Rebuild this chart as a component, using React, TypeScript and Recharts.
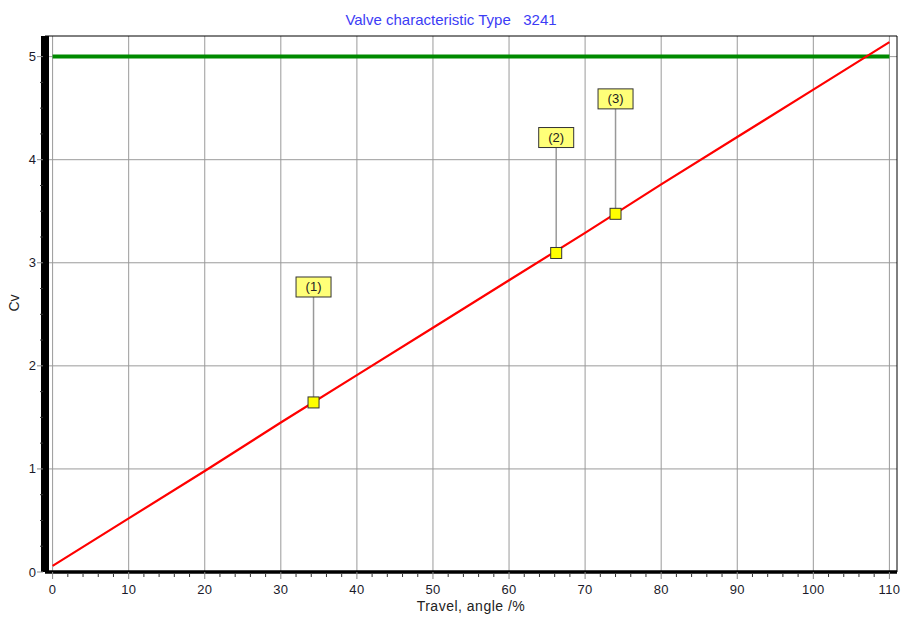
import React from 'react';
import { ComposedChart, Line, XAxis, YAxis, Scatter, CartesianGrid, ReferenceLine } from 'recharts';

// Travel (%) and Cv of the valve characteristic curve
const travel = [0, 10, 20, 30, 40, 50, 60, 70, 80, 90, 100, 110];
const cv = [0.06, 0.52, 0.98, 1.45, 1.91, 2.37, 2.83, 3.29, 3.76, 4.22, 4.68, 5.14];

// Limit line (Cvs)
const limitTravel = [0, 110];
const limitCv = [5, 5];

// Operating points
const pointLabels = ['(1)', '(2)', '(3)'];
const pointTravel = [34.3, 66.2, 74.0];
const pointCv = [1.645, 3.095, 3.475];
const labelCv = [2.765, 4.215, 4.59];

// Axes
const xMajorTicks = [0, 10, 20, 30, 40, 50, 60, 70, 80, 90, 100, 110];
const yMajorTicks = [0, 1, 2, 3, 4, 5];
const xTicks = Array.from({ length: 56 }, (_, i) => i * 2);
const yTicks = Array.from({ length: 21 }, (_, i) => i * 0.25);
const xDomain = [-1, 111];
const yDomain = [0, 5.2];

const title = 'Valve characteristic Type   3241';
const xTitle = 'Travel, angle /%';
const yTitle = 'Cv';

const FONT = '"Liberation Sans", Arial, sans-serif';

const lineData = travel.map((t, i) => ({ t, cv: cv[i] }));
const limitData = limitTravel.map((t, i) => ({ t, cv: limitCv[i] }));
const markerData = pointTravel.map((t, i) => ({ t, cv: pointCv[i] }));
const labelData = pointTravel.map((t, i) => ({ t, cv: labelCv[i], text: pointLabels[i] }));

const XTick = (props: any) => {
  const { x, y, payload } = props;
  const v = payload.value;
  if (v % 10 === 0) {
    return (
      <g>
        <line x1={x} y1={y} x2={x} y2={y + 7} stroke="#888" strokeWidth={1} />
        <text x={x} y={y + 22} textAnchor="middle" fontFamily={FONT} fontSize={13} fill="#1a1a2a" letterSpacing={0.3}>
          {v}
        </text>
      </g>
    );
  }
  return <line x1={x} y1={y + 2} x2={x} y2={y + 5} stroke="#333" strokeWidth={1} />;
};

const YTick = (props: any) => {
  const { x, y, payload } = props;
  const v = payload.value;
  if (Number.isInteger(v)) {
    return (
      <g>
        <line x1={x - 8} y1={y} x2={x - 2} y2={y} stroke="#888" strokeWidth={1} />
        <text x={x - 9} y={y + 4.5} textAnchor="end" fontFamily={FONT} fontSize={13} fill="#1a1a2a">
          {v}
        </text>
      </g>
    );
  }
  return <line x1={x - 5} y1={y} x2={x - 2} y2={y} stroke="#333" strokeWidth={1} />;
};

const MarkerShape = (props: any) => {
  const { cx, cy } = props;
  return <rect x={cx - 5.5} y={cy - 5.5} width={11} height={11} fill="#ffff00" stroke="#333" strokeWidth={1} />;
};

const LabelShape = (props: any) => {
  const { cx, cy, payload } = props;
  const w = 35;
  const h = 20;
  return (
    <g>
      <rect x={cx - w / 2} y={cy - h / 2} width={w} height={h} fill="#ffff78" stroke="#333" strokeWidth={1} />
      <text x={cx} y={cy + 4.5} textAnchor="middle" fontFamily={FONT} fontSize={13} fill="#222">
        {payload.text}
      </text>
    </g>
  );
};

export default function App() {
  return (
    <div style={{ position: 'absolute', left: 0, top: 0, width: 907, height: 623, background: '#fff' }}>
      <ComposedChart
        width={907}
        height={623}
        data={lineData}
        margin={{ top: 36, right: 10, bottom: 0, left: 0 }}
      >
        <CartesianGrid
          stroke="#9a9a9a"
          strokeWidth={1}
          verticalValues={xMajorTicks}
          horizontalValues={yMajorTicks}
        />
        <XAxis
          dataKey="t"
          type="number"
          domain={xDomain}
          ticks={xTicks}
          interval={0}
          height={51}
          tickSize={0}
          tickMargin={0}
          tickLine={false}
          axisLine={{ stroke: '#000', strokeWidth: 3.5 }}
          tick={XTick}
        />
        <YAxis
          type="number"
          domain={yDomain}
          ticks={yTicks}
          interval={0}
          width={45}
          tickSize={0}
          tickMargin={0}
          tickLine={false}
          axisLine={{ stroke: '#000', strokeWidth: 4 }}
          tick={YTick}
        />
        <ReferenceLine y={yDomain[1]} stroke="#000" strokeWidth={1} ifOverflow="visible" />
        <ReferenceLine x={xDomain[1]} stroke="#000" strokeWidth={1} ifOverflow="visible" />
        <ReferenceLine x={xDomain[0]} stroke="#000" strokeWidth={8} ifOverflow="visible" />
        <Line data={limitData} dataKey="cv" stroke="#008a00" strokeWidth={4} dot={false} isAnimationActive={false} />
        <Line dataKey="cv" stroke="#ff0000" strokeWidth={2.2} dot={false} isAnimationActive={false} />
        {pointTravel.map((t, i) => (
          <Line
            key={'lead' + i}
            data={[{ t, cv: pointCv[i] }, { t, cv: labelCv[i] }]}
            dataKey="cv"
            stroke="#999"
            strokeWidth={1.5}
            dot={false}
            isAnimationActive={false}
          />
        ))}
        <Scatter data={labelData} dataKey="cv" shape={LabelShape} isAnimationActive={false} />
        <Scatter data={markerData} dataKey="cv" shape={MarkerShape} isAnimationActive={false} />
      </ComposedChart>
      <svg width={907} height={623} style={{ position: 'absolute', left: 0, top: 0, pointerEvents: 'none' }}>
        <text x={451} y={25} textAnchor="middle" fontFamily={FONT} fontSize={15} fill="#3c3cf5" style={{ whiteSpace: 'pre' }}>
          {title}
        </text>
        <text x={471} y={611} textAnchor="middle" fontFamily={FONT} fontSize={14} fill="#222" letterSpacing={0.5}>
          {xTitle}
        </text>
        <text x={19} y={303} textAnchor="middle" fontFamily={FONT} fontSize={14} fill="#222" transform="rotate(-90 19 303)">
          {yTitle}
        </text>
      </svg>
    </div>
  );
}
